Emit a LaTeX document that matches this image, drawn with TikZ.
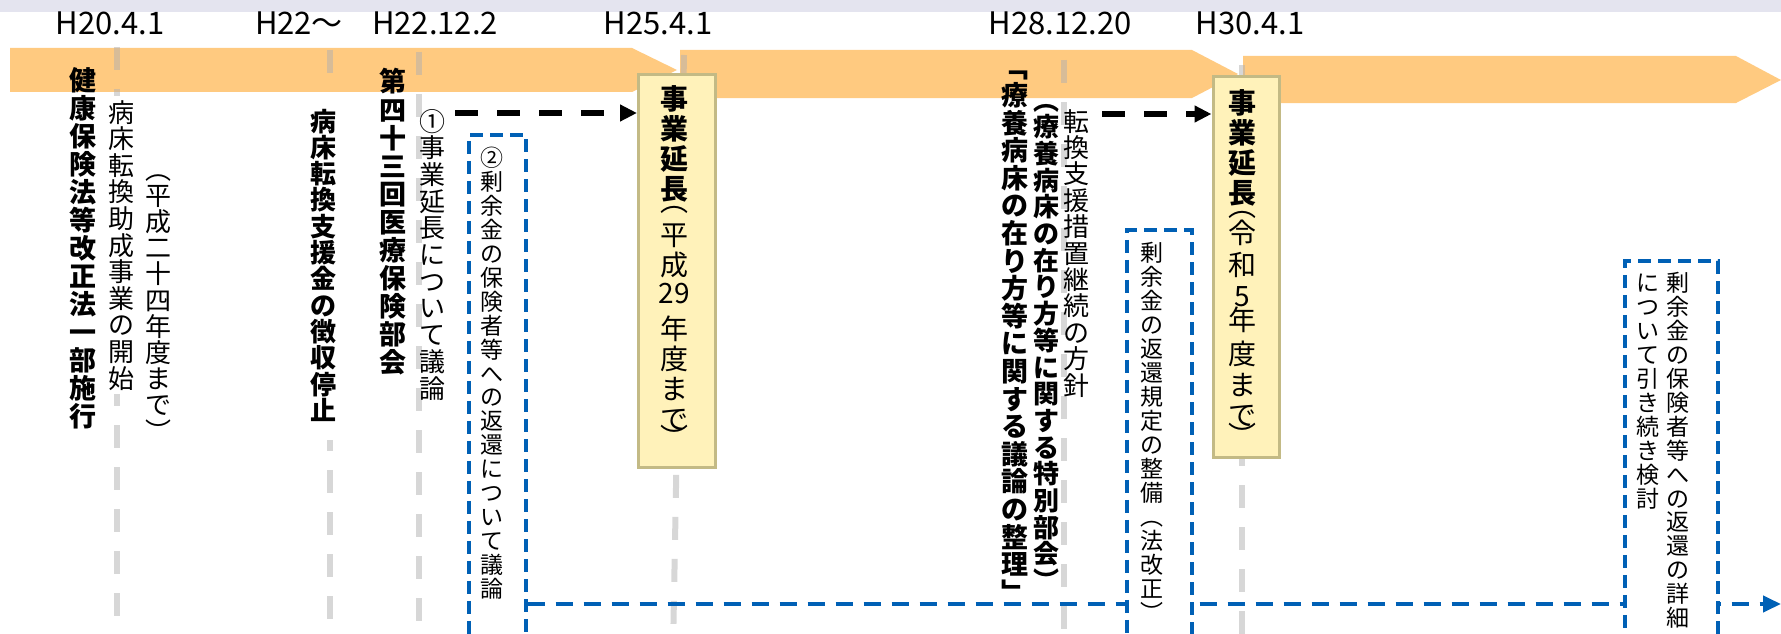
\documentclass[tikz,border=0pt]{standalone}
\usepackage{fontspec}
\setmainfont{Noto Sans CJK JP}
\usetikzlibrary{arrows.meta}
\definecolor{bandorange}{HTML}{FFCA80}
\definecolor{topband}{HTML}{E4E4EF}
\definecolor{boxfill}{HTML}{FFF2BA}
\definecolor{boxline}{HTML}{C3BA85}
\definecolor{dashblue}{HTML}{0060B5}
\definecolor{tlgray}{HTML}{B0B0B0}
\makeatletter
\def\vt@endmark{\vt@end}
\def\vt@skipmark{\vs}
\newcommand\vtx[1]{\vt@loop#1\vt@end}
\def\vt@loop#1{%
  \def\vt@arg{#1}%
  \ifx\vt@arg\vt@endmark\let\vt@next\relax
  \else\ifx\vt@arg\vt@skipmark\let\vt@next\vt@skip
  \else\hbox to 1.2em{\vrule height .88em depth .12em width 0pt\hss#1\hss}\let\vt@next\vt@loop
  \fi\fi
  \vt@next}
\def\vt@skip#1{\vskip#1\relax\vt@loop}
\newcommand\vcol[3]{\vbox{\fontsize{#1}{#2}\selectfont\lineskip=0pt\lineskiplimit=-\maxdimen #3}}
\makeatother
\begin{document}
\begin{tikzpicture}[x=1pt,y=-1pt,
  vnode/.style={inner sep=0pt, anchor=north},
  datelbl/.style={font=\fontsize{31}{32}\selectfont, anchor=base, inner sep=0pt},
  tline/.style={draw=tlgray, draw opacity=0.5, line width=6pt, dash pattern=on 23pt off 19pt},
  yelbox/.style={draw=boxline, fill=boxfill, line width=3pt, inner sep=0pt, anchor=north west},
  bluebox/.style={draw=dashblue, fill=white, line width=3.5pt, dash pattern=on 13pt off 7pt, inner sep=0pt, anchor=north west},
  bluearrow/.style={draw=dashblue, line width=4pt, dash pattern=on 17pt off 11pt, -{Triangle[length=18pt,width=16pt]}},
  blackarrow/.style={draw=black, line width=5.5pt, dash pattern=on 23pt off 19pt, -{Triangle[length=17pt,width=16pt]}}]
\useasboundingbox (0,0) rectangle (1781,634);
\clip (0,0) rectangle (1781,634);
\fill[white] (0,0) rectangle (1781,634);
\fill[topband] (0,0) rectangle (1781,12);
% orange timeline band
\fill[bandorange] (10,48) -- (632,48) -- (677,70) -- (632,92) -- (10,92) -- cycle;
\fill[bandorange] (680,50) -- (1192,50) -- (1238,74) -- (1192,98) -- (680,98) -- cycle;
\fill[bandorange] (1243,56) -- (1736,56) -- (1781,80) -- (1736,103) -- (1243,103) -- cycle;
% dates
\node[datelbl] (d1) at (110,35) {H20.4.1};
\node[datelbl] (d2) at (299,35) {H22～};
\node[datelbl] (d3) at (435,35) {H22.12.2};
\node[datelbl] (d4) at (658,35) {H25.4.1};
\node[datelbl] (d5) at (1060,35) {H28.12.20};
\node[datelbl] (d6) at (1250,35) {H30.4.1};
% timeline guide lines
\draw[tline] (117,47) -- (117,650);
\draw[tline] (330,50) -- (330,650);
\draw[tline] (419,52) -- (419,650);
\draw[tline] (684,55) -- (673,650);
\draw[tline] (1064,60) -- (1064,650);
\draw[tline] (1242,65) -- (1242,650);
% texts
\node[vnode] (t1) at (83,67) {\vcol{27}{28}{\bfseries\vtx{健康保険法等改正法一部施行}}};
\node[vnode, fill=white, inner sep=3pt] (t2) at (121,96) {\vcol{26}{26.6}{\vtx{病床転換助成事業の開始}}};
\node[vnode] (t3) at (158,156) {\vcol{26}{26.2}{\vtx{︵平成二十四年度まで︶}}};
\node[vnode, fill=white, inner xsep=3pt, inner ysep=16pt] (t4) at (323,92) {\vcol{26}{26.3}{\bfseries\vtx{病床転換支援金の徴収停止}}};
\node[vnode] (t5) at (393,68) {\vcol{27}{28.1}{\bfseries\vtx{第四十三回医療保険部会}}};
\node[vnode] (t6) at (432,108) {\vcol{26}{26.7}{\vtx{①事業延長について議論}}};
\node[vnode] (t8) at (1015,54) {\vcol{27}{27.6}{\bfseries\vtx{﹁療養病床の在り方等に関する議論の整理﹂}}};
\node[vnode] (t9) at (1046,87) {\vcol{26}{26.7}{\bfseries\vtx{︵療養病床の在り方等に関する特別部会︶}}};
\node[vnode] (t10) at (1076,108) {\vcol{26}{26.4}{\vtx{転換支援措置継続の方針}}};
% blue dashed connector
\coordinate (bl) at (0,604);
\coordinate (blend) at (1781,604);
\node[bluebox, minimum width=57pt, minimum height=520pt] (b1) at (467,133) {};
\draw[bluearrow] (b1.east |- bl) -- (blend);
\node[bluebox, minimum width=65pt, minimum height=420pt] (b2) at (1125,228) {};
\node[bluebox, minimum width=93pt, minimum height=400pt] (b3) at (1623,259) {};
\node[vnode] (t7) at (492,146.5) {\vcol{23}{23.9}{\vtx{②剰余金の保険者等への返還について議論}}};
\node[vnode] (t11) at (1152,241.5) {\vcol{23}{24}{\vtx{剰余金の返還規定の整備︵法改正︶}}};
\node[vnode] (t12) at (1678,271.5) {\vcol{23}{23.9}{\vtx{剰余金の保険者等への返還の詳細}}};
\node[vnode] (t13) at (1648,271.5) {\vcol{23}{23.9}{\vtx{について引き続き検討}}};
% yellow boxes
\node[yelbox, minimum width=77pt, minimum height=393pt] (y1) at (637,73) {};
\node[vnode] (y1t) at (674,85) {\vcol{28}{30}{\bfseries\vtx{事業延長}\mdseries\vtx{\vs{-18pt}︵\vs{4pt}平成\vs{-2pt}{29}\vs{6pt}年度まで\vs{-11pt}︶}}};
\node[yelbox, minimum width=66pt, minimum height=380pt] (y2) at (1211.5,75.5) {};
\node[vnode] (y2t) at (1242,89) {\vcol{28}{30}{\bfseries\vtx{事業延長}\mdseries\vtx{\vs{-17pt}︵\vs{-3pt}令\vs{2pt}和\vs{1pt}5\vs{-6pt}年\vs{4pt}度\vs{1pt}まで\vs{-9pt}︶}}};
% black dashed arrows
\coordinate (a1s) at (455,113);
\coordinate (a2s) at (1102,114);
\draw[blackarrow] (a1s) -- (y1.west |- a1s);
\draw[blackarrow] (a2s) -- (y2.west |- a2s);
\end{tikzpicture}
\end{document}
